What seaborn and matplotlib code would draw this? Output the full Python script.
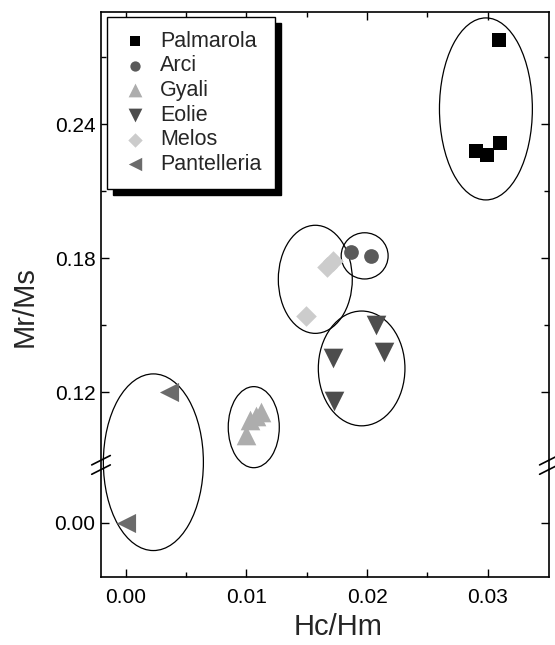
import numpy as np
import pandas as pd
import seaborn as sns
import matplotlib.pyplot as plt
from matplotlib.patches import Ellipse
from matplotlib.ticker import FixedLocator, FormatStrFormatter

# data
groups = ["Palmarola", "Arci", "Gyali", "Eolie", "Melos", "Pantelleria"]
palmarola_x = [0.0290, 0.0299, 0.0310, 0.0309]
palmarola_y = [0.2280, 0.2263, 0.2316, 0.2778]
arci_x = [0.0187, 0.0203]
arci_y = [0.1830, 0.1810]
gyali_x = [0.0100, 0.0103, 0.0108, 0.0112]
gyali_y = [0.1009, 0.1074, 0.1092, 0.1110]
eolie_x = [0.0207, 0.0214, 0.0172, 0.0173]
eolie_y = [0.1500, 0.1380, 0.1355, 0.1160]
melos_x = [0.0167, 0.0172, 0.0149]
melos_y = [0.1760, 0.1790, 0.1542]
pantelleria_x = [0.0000, 0.0036]
pantelleria_y = [0.0000, 0.1200]

xs = [palmarola_x, arci_x, gyali_x, eolie_x, melos_x, pantelleria_x]
ys = [palmarola_y, arci_y, gyali_y, eolie_y, melos_y, pantelleria_y]

df = pd.concat([pd.DataFrame({"Hc/Hm": x, "Mr/Ms": y, "site": g})
                for g, x, y in zip(groups, xs, ys)], ignore_index=True)

markers = {"Palmarola": "s", "Arci": "o", "Gyali": "^", "Eolie": "v",
           "Melos": "D", "Pantelleria": "<"}
colors = {"Palmarola": "#000000", "Arci": "#5a5a5a", "Gyali": "#adadad",
          "Eolie": "#4d4d4d", "Melos": "#cccccc", "Pantelleria": "#6b6b6b"}
sizes = {"Palmarola": 92, "Arci": 112, "Gyali": 200, "Eolie": 200,
         "Melos": 110, "Pantelleria": 190}

# broken y axis: values below A are shifted up so that A lands on B
A, B = 0.026, 0.0875
D = B - A
EPS = 1e-6


def fwd(y):
    y = np.asarray(y, float)
    return np.where(y < A, y + D, np.where(y < B, B + (y - A) * EPS, y + (B - A) * EPS))


def inv(v):
    v = np.asarray(v, float)
    return np.where(v < B, v - D,
                    np.where(v < B + (B - A) * EPS, A + (v - B) / EPS, v - (B - A) * EPS))


sns.set_style("ticks")
plt.rcParams["font.family"] = ["Liberation Sans", "DejaVu Sans"]

fig = plt.figure(figsize=(5.55, 6.45), dpi=100)
ax = fig.add_axes([0.182, 0.1054, 0.807, 0.876])
ax.set_yscale("function", functions=(fwd, inv))

for g in groups:
    sns.scatterplot(data=df[df["site"] == g], x="Hc/Hm", y="Mr/Ms",
                    marker=markers[g], color=colors[g], s=sizes[g],
                    linewidth=0, label=g, ax=ax, zorder=3)

ax.set_xlim(-0.00205, 0.03507)
ax.set_ylim(-0.0242, 0.2903)

# ellipses drawn in the (linear) broken-axis space: x, centre v, width, height
vtrans = ax.transLimits + ax.transAxes
ellipses = [(0.02985, 0.2469, 0.0077, 0.0815),
            (0.0198, 0.1811, 0.00389, 0.0207),
            (0.01571, 0.1706, 0.00613, 0.0484),
            (0.01955, 0.1307, 0.00718, 0.0514),
            (0.01061, 0.1044, 0.00423, 0.0363),
            (0.00229, 0.0887, 0.00829, 0.0791)]
for cx, cy, w, h in ellipses:
    ax.add_patch(Ellipse((cx, cy), w, h, transform=vtrans, fill=False,
                         edgecolor="black", linewidth=0.9, zorder=2))

# break marks on both spines
for xe in (-0.00205, 0.03507):
    for dv in (-0.0021, 0.0021):
        ax.plot([xe - 0.00077, xe + 0.00077], [B + dv - 0.0021, B + dv + 0.0021],
                color="black", linewidth=1.2, transform=vtrans, clip_on=False, zorder=5)

ax.xaxis.set_major_locator(FixedLocator([0.0, 0.01, 0.02, 0.03]))
ax.xaxis.set_minor_locator(FixedLocator([0.005, 0.015, 0.025]))
ax.yaxis.set_major_locator(FixedLocator([0.0, 0.12, 0.18, 0.24]))
ax.yaxis.set_minor_locator(FixedLocator([0.15, 0.21, 0.27]))
ax.xaxis.set_major_formatter(FormatStrFormatter("%.2f"))
ax.yaxis.set_major_formatter(FormatStrFormatter("%.2f"))
ax.tick_params(which="both", direction="in", top=True, right=True, width=1.0, colors="black")
ax.tick_params(which="major", length=6)
ax.tick_params(which="minor", length=3.5)
ax.tick_params(axis="x", which="major", labelsize=15, pad=8)
ax.tick_params(axis="y", which="major", labelsize=15, pad=4)
for sp in ax.spines.values():
    sp.set_linewidth(1.2)
    sp.set_color("black")

ax.set_xlabel("Hc/Hm", fontsize=21)
ax.set_ylabel("Mr/Ms", fontsize=21)
ax.xaxis.set_label_coords(0.529, -0.064)
ax.yaxis.set_label_coords(-0.14, 0.478)

leg = ax.legend(loc="upper left", bbox_to_anchor=(0.0134, 0.9917), borderaxespad=0,
                fontsize=15.5, fancybox=False, edgecolor="black", framealpha=1,
                handlelength=1.3, handletextpad=0.5, borderpad=0.65,
                labelspacing=0.17, markerscale=0.7,
                shadow={"ox": 4.5, "oy": -4.5, "color": "black", "alpha": 1})
leg.get_frame().set_linewidth(1.0)

fig.savefig("out.png", dpi=100)
